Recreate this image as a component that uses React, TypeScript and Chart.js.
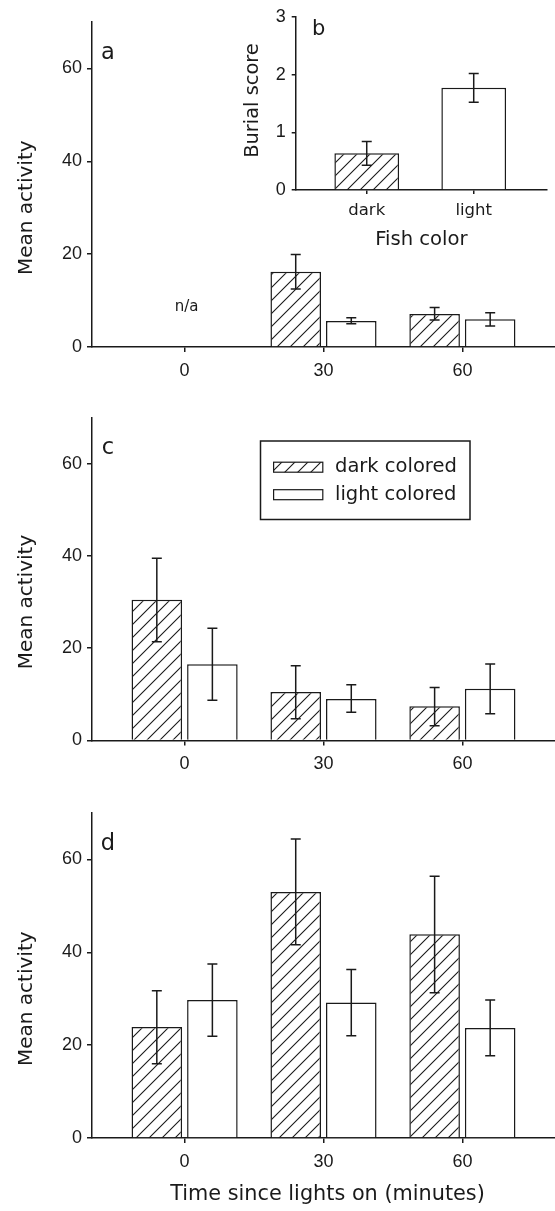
import React, { useEffect, useRef } from 'react';
import { Chart, registerables } from 'chart.js';

Chart.register(...registerables);

// ---------- data ----------
const timePoints = [0, 30, 60];
const timeTickLabels = ['0', '30', '60'];
const seriesNames = ['dark colored', 'light colored'];

// panel a (n/a at time 0)
const aDark = [null, 16.2, 7.1];
const aDarkHi = [null, 19.9, 8.5];
const aDarkLo = [null, 12.5, 5.8];
const aLight = [null, 5.6, 6.0];
const aLightHi = [null, 6.3, 7.4];
const aLightLo = [null, 5.0, 4.5];

// panel c
const cDark = [30.5, 10.5, 7.4];
const cDarkHi = [39.5, 16.2, 11.5];
const cDarkLo = [21.4, 4.7, 3.2];
const cLight = [16.5, 9.0, 11.2];
const cLightHi = [24.3, 12.1, 16.6];
const cLightLo = [8.7, 6.1, 5.8];

// panel d
const dDark = [23.9, 53.0, 43.9];
const dDarkHi = [31.7, 64.4, 56.4];
const dDarkLo = [16.0, 41.6, 31.3];
const dLight = [29.7, 29.2, 23.7];
const dLightHi = [37.5, 36.3, 29.7];
const dLightLo = [21.9, 22.0, 17.7];

// inset b
const fishColors = ['dark', 'light'];
const burialScore = [0.635, 1.77];
const burialHi = [0.84, 2.02];
const burialLo = [0.43, 1.52];

// ---------- styling ----------
const INK = '#1a1a1a';
const NUM_FONT = "'Liberation Sans', Arial, sans-serif";
const TXT_FONT = "'DejaVu Sans', sans-serif";

function makeHatch(ctx: CanvasRenderingContext2D): CanvasPattern {
  const s = 13;
  const c = document.createElement('canvas');
  c.width = s;
  c.height = s;
  const g = c.getContext('2d')!;
  g.fillStyle = '#ffffff';
  g.fillRect(0, 0, s, s);
  g.strokeStyle = INK;
  g.lineWidth = 1.1;
  g.beginPath();
  g.moveTo(-1, s + 1);
  g.lineTo(s + 1, -1);
  g.moveTo(-1, 1);
  g.lineTo(1, -1);
  g.moveTo(s - 1, s + 1);
  g.lineTo(s + 1, s - 1);
  g.stroke();
  return ctx.createPattern(c, 'repeat')!;
}

const errorBarPlugin = {
  id: 'errorBars',
  afterDatasetsDraw(chart: any) {
    const ctx = chart.ctx;
    const y = chart.scales.y;
    chart.data.datasets.forEach((ds: any, i: number) => {
      if (!ds.errHi) return;
      const meta = chart.getDatasetMeta(i);
      meta.data.forEach((bar: any, j: number) => {
        const hi = ds.errHi[j];
        const lo = ds.errLo[j];
        if (hi == null || lo == null) return;
        const yh = y.getPixelForValue(hi);
        const yl = y.getPixelForValue(lo);
        const x = bar.x;
        ctx.save();
        ctx.strokeStyle = INK;
        ctx.lineWidth = 1.5;
        ctx.beginPath();
        ctx.moveTo(x, yh);
        ctx.lineTo(x, yl);
        ctx.moveTo(x - 5, yh);
        ctx.lineTo(x + 5, yh);
        ctx.moveTo(x - 5, yl);
        ctx.lineTo(x + 5, yl);
        ctx.stroke();
        ctx.restore();
      });
    });
  },
};

const panelTextPlugin = {
  id: 'panelText',
  afterDraw(chart: any, _args: any, opts: any) {
    const ctx: CanvasRenderingContext2D = chart.ctx;
    const area = chart.chartArea;
    const ys = chart.scales.y;
    const xs = chart.scales.x;
    ctx.save();
    ctx.fillStyle = INK;
    if (opts.letter) {
      ctx.font = `${opts.letterSize || 22.5}px ${TXT_FONT}`;
      ctx.textAlign = 'center';
      ctx.textBaseline = 'middle';
      ctx.fillText(opts.letter, area.left + opts.letterDx, area.top + opts.letterDy);
    }
    if (opts.yTitle) {
      ctx.save();
      ctx.font = `${opts.yTitleSize}px ${TXT_FONT}`;
      ctx.textAlign = 'center';
      ctx.textBaseline = 'middle';
      ctx.translate(opts.yTitleX, ys.getPixelForValue(opts.yTitleValue));
      ctx.rotate(-Math.PI / 2);
      ctx.fillText(opts.yTitle, 0, 0);
      ctx.restore();
    }
    if (opts.xTitle) {
      ctx.font = `${opts.xTitleSize}px ${TXT_FONT}`;
      ctx.textAlign = 'center';
      ctx.textBaseline = 'middle';
      ctx.fillText(opts.xTitle, (area.left + area.right) / 2 + (opts.xTitleDx || 0), area.bottom + opts.xTitleDy);
    }
    if (opts.note) {
      ctx.font = `15px ${TXT_FONT}`;
      ctx.textAlign = 'center';
      ctx.textBaseline = 'middle';
      ctx.fillText(opts.note.text, xs.getPixelForValue(opts.note.x) + 2, ys.getPixelForValue(opts.note.y));
    }
    if (opts.legend) {
      const bx = area.left + 168.5;
      const by = area.top + 23.5;
      ctx.lineWidth = 1.5;
      ctx.strokeStyle = INK;
      ctx.strokeRect(bx, by, 209.5, 78.5);
      const fills = [opts.hatch, '#ffffff'];
      const rowsY = [area.top + 49.7, area.top + 77.2];
      seriesNames.forEach((name, k) => {
        ctx.fillStyle = fills[k];
        ctx.fillRect(area.left + 181.6, rowsY[k] - 5, 49.2, 10);
        ctx.strokeStyle = INK;
        ctx.lineWidth = 1.2;
        ctx.strokeRect(area.left + 181.6, rowsY[k] - 5, 49.2, 10);
        ctx.fillStyle = INK;
        ctx.font = `19.5px ${TXT_FONT}`;
        ctx.textAlign = 'left';
        ctx.textBaseline = 'middle';
        ctx.fillText(name, area.left + 243, rowsY[k]);
      });
    }
    ctx.restore();
  },
};

function axisCommon() {
  return {
    grid: {
      display: true,
      drawOnChartArea: false,
      drawTicks: true,
      tickLength: 5,
      color: INK,
      lineWidth: 1.5,
      offset: false,
    },
    border: { display: true, color: INK, width: 1.5 },
  };
}

interface PanelProps {
  height: number;
  padTop: number;
  plotBottom: number;
  dark: (number | null)[];
  darkHi: (number | null)[];
  darkLo: (number | null)[];
  light: (number | null)[];
  lightHi: (number | null)[];
  lightLo: (number | null)[];
  letter: string;
  xTitle?: string;
  note?: { text: string; x: number; y: number };
  legend?: boolean;
}

function panelConfig(ctx: CanvasRenderingContext2D, p: PanelProps): any {
  const hatch = makeHatch(ctx);
  const mk = (vals: (number | null)[]) => timePoints.map((t, i) => ({ x: t, y: vals[i] }));
  return {
    type: 'bar',
    data: {
      datasets: [
        {
          label: seriesNames[0],
          data: mk(p.dark),
          errHi: p.darkHi,
          errLo: p.darkLo,
          backgroundColor: hatch,
          borderColor: INK,
          borderWidth: 1.5,
          borderSkipped: 'start',
          categoryPercentage: 0.8,
          barPercentage: 0.91,
        },
        {
          label: seriesNames[1],
          data: mk(p.light),
          errHi: p.lightHi,
          errLo: p.lightLo,
          backgroundColor: '#ffffff',
          borderColor: INK,
          borderWidth: 1.5,
          borderSkipped: 'start',
          categoryPercentage: 0.8,
          barPercentage: 0.91,
        },
      ],
    },
    options: {
      animation: false,
      responsive: false,
      maintainAspectRatio: false,
      events: [],
      layout: { padding: { top: p.padTop, left: 0, right: 0, bottom: 0 } },
      plugins: {
        legend: { display: false },
        tooltip: { enabled: false },
        panelText: {
          letter: p.letter,
          letterDx: 16,
          letterDy: 31,
          yTitle: 'Mean activity',
          yTitleSize: 20,
          yTitleX: 26.5,
          yTitleValue: 30,
          xTitle: p.xTitle,
          xTitleSize: 20.8,
          xTitleDx: 4,
          xTitleDy: 57,
          note: p.note,
          legend: p.legend,
          hatch,
        },
      },
      scales: {
        x: {
          type: 'linear',
          min: -20,
          max: 80,
          offset: false,
          afterBuildTicks: (s: any) => {
            s.ticks = timePoints.map((v) => ({ value: v }));
          },
          afterFit: (s: any) => {
            s.height = p.height - p.plotBottom;
          },
          ticks: {
            font: { family: NUM_FONT, size: 18 },
            color: INK,
            padding: 8,
            maxRotation: 0,
            autoSkip: false,
            callback: (v: number) => timeTickLabels[timePoints.indexOf(v)],
          },
          ...axisCommon(),
        },
        y: {
          type: 'linear',
          min: 0,
          max: 70,
          afterBuildTicks: (s: any) => {
            s.ticks = s.ticks.filter((t: any) => t.value <= 60);
          },
          afterFit: (s: any) => {
            s.width = 92;
          },
          ticks: {
            stepSize: 20,
            font: { family: NUM_FONT, size: 18 },
            color: INK,
            padding: 5,
          },
          ...axisCommon(),
        },
      },
    },
    plugins: [errorBarPlugin, panelTextPlugin],
  };
}

function insetConfig(ctx: CanvasRenderingContext2D, height: number): any {
  const hatch = makeHatch(ctx);
  return {
    type: 'bar',
    data: {
      datasets: [
        {
          label: 'Burial score',
          data: fishColors.map((_, i) => ({ x: i, y: burialScore[i] })),
          errHi: burialHi,
          errLo: burialLo,
          backgroundColor: [hatch, '#ffffff'],
          borderColor: INK,
          borderWidth: 1.5,
          borderSkipped: 'start',
          categoryPercentage: 1,
          barPercentage: 0.605,
        },
      ],
    },
    options: {
      animation: false,
      responsive: false,
      maintainAspectRatio: false,
      events: [],
      layout: { padding: { top: 15, left: 0, right: 8, bottom: 0 } },
      plugins: {
        legend: { display: false },
        tooltip: { enabled: false },
        panelText: {
          letter: 'b',
          letterSize: 21,
          letterDx: 23,
          letterDy: 13,
          yTitle: 'Burial score',
          yTitleSize: 19.4,
          yTitleX: 28,
          yTitleValue: 1.55,
          xTitle: 'Fish color',
          xTitleSize: 19.6,
          xTitleDx: 0,
          xTitleDy: 50,
        },
      },
      scales: {
        x: {
          type: 'linear',
          min: -0.664,
          max: 1.685,
          offset: false,
          afterBuildTicks: (s: any) => {
            s.ticks = fishColors.map((_, i) => ({ value: i }));
          },
          afterFit: (s: any) => {
            s.height = height - 190;
          },
          ticks: {
            font: { family: TXT_FONT, size: 16.5 },
            color: INK,
            padding: 7,
            maxRotation: 0,
            autoSkip: false,
            callback: (v: number) => fishColors[v],
          },
          ...axisCommon(),
          grid: { ...axisCommon().grid, tickLength: 4 },
        },
        y: {
          type: 'linear',
          min: 0,
          max: 3,
          afterFit: (s: any) => {
            s.width = 70.7;
          },
          ticks: {
            stepSize: 1,
            font: { family: NUM_FONT, size: 18 },
            color: INK,
            padding: 6,
          },
          ...axisCommon(),
          grid: { ...axisCommon().grid, tickLength: 4 },
        },
      },
    },
    plugins: [errorBarPlugin, panelTextPlugin],
  };
}

function ChartCanvas(props: {
  left: number;
  top: number;
  width: number;
  height: number;
  z?: number;
  build: (ctx: CanvasRenderingContext2D) => any;
}) {
  const ref = useRef<HTMLCanvasElement | null>(null);
  useEffect(() => {
    const canvas = ref.current;
    if (!canvas) return;
    const ctx = canvas.getContext('2d')!;
    const chart = new Chart(ctx, props.build(ctx));
    return () => chart.destroy();
  }, []);
  return (
    <canvas
      ref={ref}
      width={props.width}
      height={props.height}
      style={{
        position: 'absolute',
        left: props.left,
        top: props.top,
        width: props.width,
        height: props.height,
        zIndex: props.z || 0,
      }}
    />
  );
}

export default function App() {
  const panelA: PanelProps = {
    height: 380,
    padTop: 22,
    plotBottom: 347,
    dark: aDark,
    darkHi: aDarkHi,
    darkLo: aDarkLo,
    light: aLight,
    lightHi: aLightHi,
    lightLo: aLightLo,
    letter: 'a',
    note: { text: 'n/a', x: 0, y: 8.6 },
  };
  const panelC: PanelProps = {
    height: 400,
    padTop: 37.5,
    plotBottom: 360.5,
    dark: cDark,
    darkHi: cDarkHi,
    darkLo: cDarkLo,
    light: cLight,
    lightHi: cLightHi,
    lightLo: cLightLo,
    letter: 'c',
    legend: true,
  };
  const panelD: PanelProps = {
    height: 431,
    padTop: 33,
    plotBottom: 358,
    dark: dDark,
    darkHi: dDarkHi,
    darkLo: dDarkLo,
    light: dLight,
    lightHi: dLightHi,
    lightLo: dLightLo,
    letter: 'd',
    xTitle: 'Time since lights on (minutes)',
  };
  return (
    <div style={{ position: 'absolute', left: 0, top: 0, width: 555, height: 1211, background: '#fff' }}>
      <ChartCanvas left={0} top={0} width={555} height={380} build={(ctx) => panelConfig(ctx, panelA)} />
      <ChartCanvas left={225} top={0} width={330} height={255} z={2} build={(ctx) => insetConfig(ctx, 255)} />
      <ChartCanvas left={0} top={380} width={555} height={400} build={(ctx) => panelConfig(ctx, panelC)} />
      <ChartCanvas left={0} top={780} width={555} height={431} build={(ctx) => panelConfig(ctx, panelD)} />
    </div>
  );
}
